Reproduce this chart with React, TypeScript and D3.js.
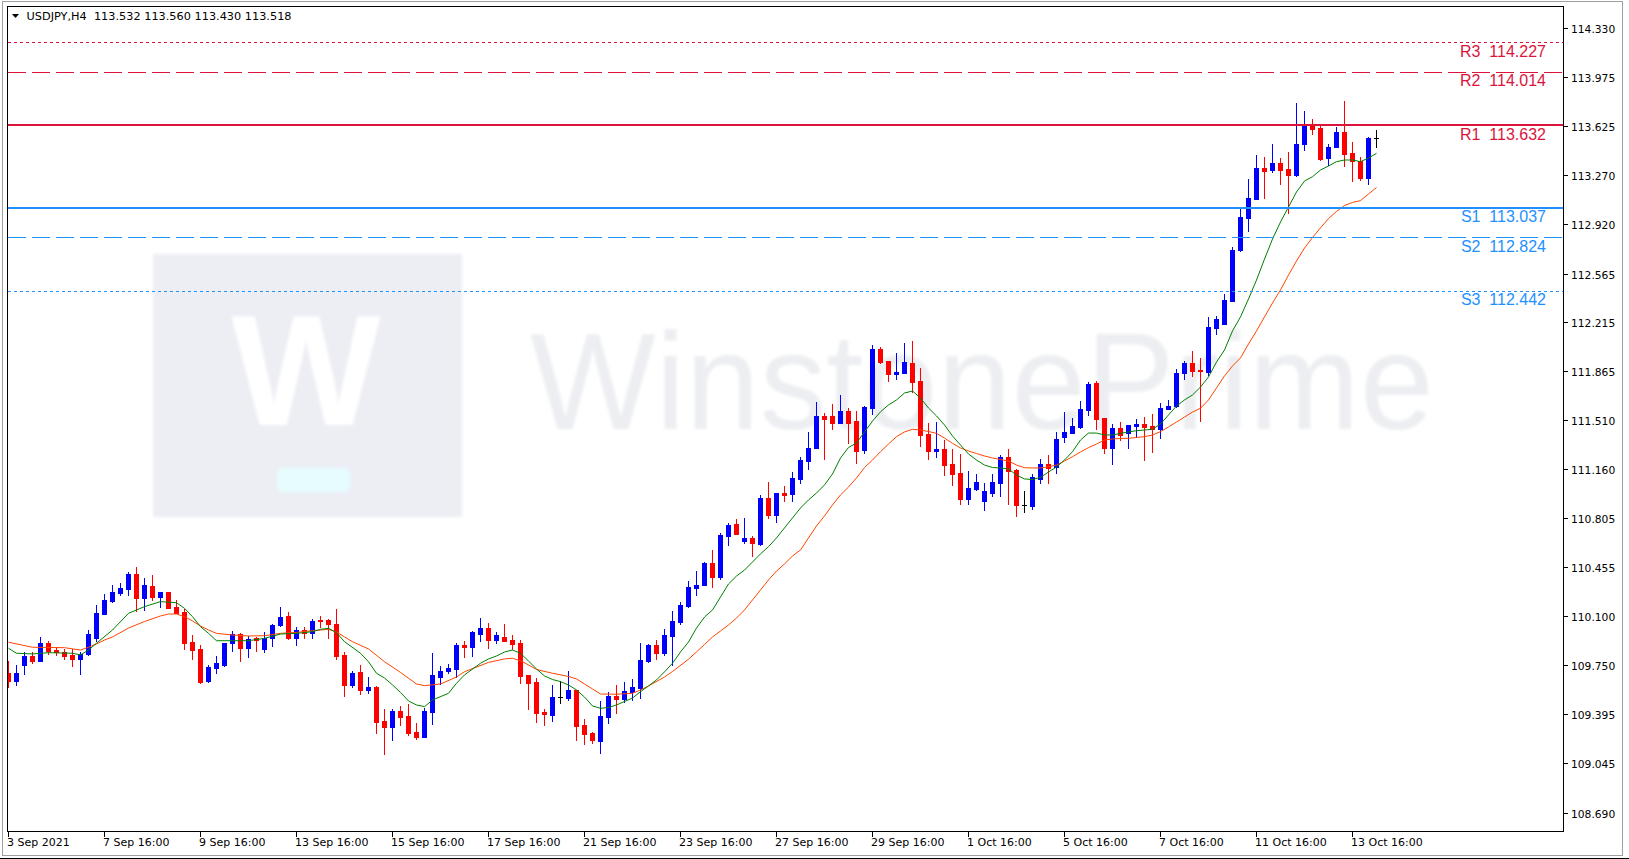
import React from 'react';
import * as d3 from 'd3';

const titleText = 'USDJPY,H4  113.532 113.560 113.430 113.518';

const opens = [109.691,109.638,109.751,109.817,109.781,109.907,109.858,109.846,109.823,109.794,109.830,109.945,110.117,110.211,110.268,110.299,110.405,110.234,110.319,110.241,110.275,110.167,110.132,109.918,109.866,109.633,109.729,109.754,109.911,109.973,109.875,109.942,109.866,109.942,110.038,110.103,109.941,110.001,109.984,110.074,110.074,110.045,109.820,109.607,109.699,109.573,109.595,109.347,109.306,109.420,109.382,109.268,109.235,109.415,109.667,109.710,109.724,109.894,109.882,109.975,110.016,109.932,109.952,109.930,109.905,109.679,109.628,109.413,109.393,109.520,109.513,109.571,109.319,109.264,109.206,109.379,109.530,109.508,109.556,109.587,109.781,109.894,109.839,109.961,110.060,110.177,110.306,110.322,110.484,110.386,110.680,110.764,110.644,110.664,110.623,110.951,110.829,110.987,110.980,111.088,111.219,111.311,111.541,111.538,111.488,111.574,111.502,111.296,111.598,112.022,111.936,111.845,111.852,111.922,111.792,111.411,111.289,111.303,111.196,111.131,110.944,111.016,110.930,110.987,111.059,111.248,111.152,110.901,110.894,111.088,111.196,111.176,111.392,111.421,111.462,111.586,111.778,111.528,111.313,111.457,111.416,111.469,111.483,111.469,111.445,111.591,111.612,111.852,111.920,111.871,111.857,112.176,112.205,112.370,112.734,112.966,113.103,113.324,113.309,113.360,113.316,113.273,113.496,113.638,113.611,113.395,113.475,113.582,113.431,113.374,113.254,113.539];

const highs = [109.779,109.751,109.842,109.846,109.952,109.923,109.878,109.868,109.863,109.846,110.002,110.182,110.261,110.326,110.342,110.419,110.455,110.376,110.398,110.275,110.275,110.218,110.151,109.966,109.894,109.751,109.815,109.909,109.997,109.981,109.961,109.954,109.986,110.043,110.168,110.131,110.026,110.026,110.081,110.102,110.081,110.153,109.842,109.710,109.751,109.667,109.602,109.432,109.434,109.456,109.470,109.335,109.444,109.837,109.744,109.758,109.909,109.923,109.997,110.088,110.052,109.988,110.047,109.966,109.930,109.679,109.657,109.432,109.607,109.635,109.707,109.571,109.362,109.272,109.492,109.556,109.607,109.628,109.652,109.909,109.901,109.930,110.009,110.141,110.204,110.354,110.426,110.491,110.578,110.702,110.769,110.800,110.807,110.678,110.973,111.066,110.987,111.037,111.138,111.248,111.426,111.643,111.564,111.627,111.692,111.600,111.574,111.613,112.051,112.037,111.936,111.994,112.066,112.080,111.884,111.490,111.498,111.368,111.303,111.268,111.145,111.124,111.057,111.124,111.260,111.303,111.160,111.001,111.124,111.232,111.261,111.426,111.572,111.526,111.649,111.783,111.792,111.528,111.483,111.500,111.476,111.517,111.536,111.555,111.636,111.658,111.878,111.938,112.008,111.958,112.254,112.257,112.420,112.756,113.038,113.247,113.417,113.403,113.496,113.396,113.439,113.791,113.734,113.676,113.625,113.496,113.618,113.805,113.510,113.403,113.546,113.597];

const lows = [109.595,109.607,109.686,109.767,109.781,109.827,109.823,109.794,109.744,109.686,109.823,109.926,110.117,110.203,110.254,110.254,110.141,110.146,110.218,110.170,110.158,110.122,109.868,109.794,109.621,109.628,109.696,109.744,109.851,109.781,109.808,109.853,109.846,109.887,110.033,109.934,109.894,109.945,109.945,110.023,109.941,109.792,109.530,109.595,109.542,109.552,109.263,109.113,109.214,109.320,109.249,109.216,109.231,109.326,109.614,109.691,109.667,109.810,109.817,109.925,109.875,109.911,109.925,109.868,109.623,109.434,109.342,109.320,109.350,109.479,109.499,109.211,109.185,109.188,109.120,109.336,109.408,109.482,109.499,109.515,109.774,109.794,109.823,109.751,110.045,110.168,110.256,110.322,110.314,110.372,110.613,110.695,110.630,110.536,110.613,110.809,110.781,110.932,110.932,111.059,111.162,111.311,111.234,111.447,111.488,111.346,111.205,111.277,111.555,111.922,111.792,111.807,111.852,111.715,111.325,111.232,111.248,111.117,111.045,110.908,110.908,111.009,110.865,110.966,110.968,110.910,110.824,110.853,110.874,111.061,111.061,111.133,111.356,111.417,111.453,111.548,111.450,111.277,111.196,111.368,111.313,111.390,111.224,111.282,111.382,111.589,111.607,111.809,111.830,111.507,111.833,112.133,112.205,112.370,112.727,112.873,113.103,113.110,113.295,113.209,113.002,113.268,113.453,113.568,113.381,113.345,113.475,113.338,113.230,113.237,113.209,113.477];

const closes = [109.638,109.691,109.815,109.781,109.907,109.851,109.842,109.817,109.794,109.827,109.973,110.124,110.218,110.275,110.304,110.405,110.234,110.326,110.241,110.275,110.162,110.127,109.911,109.858,109.626,109.737,109.763,109.909,109.971,109.875,109.937,109.932,109.942,110.038,110.096,109.941,110.001,109.981,110.066,110.064,110.047,109.815,109.607,109.696,109.573,109.592,109.342,109.306,109.420,109.380,109.263,109.235,109.420,109.679,109.708,109.731,109.894,109.882,109.988,110.016,109.932,109.966,109.925,109.903,109.674,109.623,109.408,109.401,109.520,109.520,109.571,109.314,109.257,109.214,109.384,109.528,109.508,109.564,109.592,109.786,109.894,109.839,109.966,110.067,110.182,110.311,110.326,110.486,110.386,110.687,110.757,110.695,110.664,110.630,110.951,110.829,110.987,110.975,111.095,111.224,111.311,111.541,111.521,111.488,111.574,111.490,111.289,111.608,112.022,111.929,111.845,111.857,111.929,111.787,111.404,111.289,111.303,111.189,111.124,110.944,111.023,111.066,111.002,111.066,111.248,111.145,110.901,110.901,111.102,111.196,111.167,111.375,111.424,111.469,111.591,111.771,111.521,111.313,111.457,111.404,111.476,111.483,111.462,111.445,111.600,111.612,111.850,111.920,111.866,111.862,112.180,112.238,112.375,112.734,112.973,113.108,113.324,113.304,113.360,113.309,113.273,113.496,113.638,113.604,113.388,113.475,113.582,113.424,113.374,113.254,113.539,113.539];

// moving averages: [bar index, value]
const maFast: [number, number][] = [[0,109.871],[1,109.835],[3,109.830],[5,109.839],[8,109.835],[9,109.823],[10,109.858],[11,109.907],[13,110.002],[15,110.122],[17,110.170],[19,110.206],[21,110.198],[22,110.158],[23,110.098],[24,110.026],[25,109.978],[26,109.925],[28,109.925],[30,109.925],[32,109.942],[34,109.973],[36,109.978],[38,109.990],[39,110.007],[40,110.014],[41,109.983],[42,109.918],[44,109.835],[45,109.774],[46,109.691],[47,109.657],[48,109.607],[49,109.553],[50,109.492],[51,109.463],[52,109.451],[53,109.499],[55,109.547],[56,109.619],[57,109.679],[59,109.763],[60,109.794],[61,109.815],[62,109.844],[63,109.858],[64,109.835],[65,109.779],[66,109.722],[67,109.672],[68,109.646],[69,109.631],[70,109.607],[71,109.571],[72,109.520],[73,109.456],[74,109.439],[75,109.445],[76,109.463],[78,109.513],[79,109.559],[80,109.600],[81,109.643],[82,109.701],[83,109.763],[84,109.844],[85,109.916],[86,110.016],[87,110.095],[88,110.146],[89,110.239],[90,110.333],[91,110.390],[92,110.433],[93,110.491],[94,110.549],[95,110.601],[96,110.664],[97,110.736],[98,110.808],[99,110.879],[100,110.937],[101,110.987],[102,111.045],[103,111.124],[104,111.239],[105,111.314],[106,111.346],[107,111.426],[108,111.504],[109,111.571],[110,111.620],[111,111.656],[112,111.706],[113,111.720],[114,111.670],[115,111.598],[116,111.541],[117,111.476],[118,111.397],[119,111.332],[120,111.267],[121,111.224],[122,111.188],[123,111.170],[124,111.167],[125,111.160],[126,111.116],[127,111.088],[128,111.084],[129,111.099],[130,111.138],[131,111.174],[132,111.224],[133,111.284],[134,111.368],[135,111.418],[136,111.418],[137,111.404],[138,111.404],[139,111.416],[140,111.426],[141,111.435],[142,111.440],[143,111.445],[144,111.483],[145,111.548],[146,111.612],[147,111.656],[148,111.692],[149,111.749],[150,111.821],[151,111.929],[152,112.015],[153,112.152],[154,112.253],[155,112.382],[156,112.518],[157,112.669],[158,112.813],[159,112.935],[160,113.043],[161,113.151],[162,113.230],[163,113.261],[164,113.309],[165,113.338],[166,113.369],[167,113.381],[168,113.381],[169,113.369],[170,113.395],[171,113.429]];

const maSlow: [number, number][] = [[0,109.914],[3,109.878],[7,109.875],[9,109.858],[10,109.878],[11,109.902],[12,109.930],[13,109.952],[15,110.016],[17,110.063],[19,110.103],[20,110.117],[21,110.117],[22,110.098],[23,110.067],[24,110.031],[25,110.002],[26,109.978],[28,109.966],[30,109.959],[32,109.961],[34,109.978],[36,109.985],[38,109.997],[40,110.007],[41,109.988],[42,109.952],[43,109.918],[45,109.866],[47,109.774],[49,109.697],[51,109.614],[52,109.602],[54,109.614],[56,109.664],[57,109.702],[60,109.769],[62,109.794],[63,109.799],[64,109.781],[65,109.751],[66,109.718],[68,109.691],[70,109.668],[71,109.650],[72,109.614],[73,109.578],[74,109.542],[76,109.540],[78,109.547],[79,109.571],[80,109.600],[82,109.664],[83,109.704],[85,109.792],[86,109.844],[87,109.898],[88,109.952],[89,109.995],[90,110.038],[91,110.088],[92,110.146],[93,110.218],[94,110.290],[95,110.362],[96,110.426],[97,110.477],[98,110.534],[99,110.577],[100,110.664],[101,110.750],[102,110.822],[103,110.901],[104,110.973],[105,111.030],[106,111.095],[107,111.170],[108,111.224],[109,111.284],[110,111.339],[111,111.392],[112,111.426],[113,111.445],[114,111.440],[115,111.429],[116,111.416],[117,111.382],[118,111.344],[119,111.311],[120,111.289],[121,111.271],[122,111.253],[123,111.239],[124,111.228],[125,111.217],[126,111.188],[127,111.169],[128,111.167],[129,111.167],[130,111.176],[131,111.188],[132,111.217],[133,111.248],[134,111.282],[135,111.313],[136,111.339],[137,111.368],[138,111.375],[139,111.379],[140,111.380],[141,111.386],[142,111.392],[143,111.404],[144,111.428],[145,111.462],[146,111.497],[147,111.533],[148,111.569],[149,111.596],[150,111.656],[151,111.742],[152,111.829],[153,111.900],[154,111.958],[155,112.058],[156,112.152],[157,112.253],[158,112.353],[159,112.447],[160,112.554],[161,112.655],[162,112.748],[163,112.824],[164,112.893],[165,112.960],[166,113.011],[167,113.054],[168,113.076],[169,113.089],[170,113.137],[171,113.183]];

const priceTicks = [114.330,113.975,113.625,113.270,112.920,112.565,112.215,111.865,111.510,111.160,110.805,110.455,110.100,109.750,109.395,109.045,108.690];

const timeTickIndex = [0,12,24,36,48,60,72,84,96,108,120,132,144,156,168];
const timeTickLabels = ['3 Sep 2021','7 Sep 16:00','9 Sep 16:00','13 Sep 16:00','15 Sep 16:00','17 Sep 16:00','21 Sep 16:00','23 Sep 16:00','27 Sep 16:00','29 Sep 16:00','1 Oct 16:00','5 Oct 16:00','7 Oct 16:00','11 Oct 16:00','13 Oct 16:00'];

const pivotNames = ['R3','R2','R1','S1','S2','S3'];
const pivotValues = [114.227,114.014,113.632,113.037,112.824,112.442];

export default function App() {
  const W = 1629, H = 859;
  const L = 7, T = 6, R = 1563, B = 831;
  const n = opens.length;
  const x = d3.scaleLinear().domain([0, n - 1]).range([8.6, 8.6 + 8 * (n - 1)]);
  const y = d3.scaleLinear().domain([108.69, 114.33]).range([812.5, 28]);
  const line = d3.line<[number, number]>().x(d => Math.floor(x(d[0])) + 0.5).y(d => y(d[1]));

  const pivotStyle = (name: string) => {
    const isR = name[0] === 'R';
    const color = isR ? '#DC143C' : '#1E90FF';
    const lvl = name[1];
    return {
      color,
      width: lvl === '1' ? 2 : 1,
      dash: lvl === '1' ? undefined : lvl === '2' ? '18,6' : '3,3',
    };
  };

  const axisFont = "'DejaVu Sans', Verdana, sans-serif";

  return (
    <div style={{ position: 'absolute', left: 0, top: 0, width: W, height: H, background: '#fff' }}>
      <svg width={W} height={H} viewBox={`0 0 ${W} ${H}`} style={{ display: 'block' }}>
        <defs>
          <clipPath id="plot">
            <rect x={L + 1} y={T + 1} width={R - L - 1} height={B - T - 1} />
          </clipPath>
          <filter id="soft" x="-5%" y="-5%" width="110%" height="110%">
            <feGaussianBlur stdDeviation="1.8" />
          </filter>
        </defs>
        <rect x={0} y={0} width={W} height={H} fill="#fff" />
        {/* outer frame */}
        <rect x={2.5} y={1.5} width={1620} height={854} fill="none" stroke="#a0a0a0" strokeWidth={1} />
        <line x1={0} x2={W} y1={858.5} y2={858.5} stroke="#000" strokeWidth={1} />

        <g clipPath="url(#plot)">
          {/* watermark */}
          <g filter="url(#soft)">
            <rect x={153} y={254} width={309} height={263} fill="#eceef4" />
            <text x={306} y={425} textAnchor="middle" fontFamily="'Liberation Sans', Arial, sans-serif" fontWeight="bold" fontSize={158} fill="#ffffff">W</text>
            <rect x={277} y={468} width={73} height={24} rx={6} fill="#e6fcfe" />
            <text x={530} y={429} fontFamily="'Liberation Sans', Arial, sans-serif" fontSize={138} fill="#eceef1" textLength={904} lengthAdjust="spacingAndGlyphs">WinstonePrime</text>
          </g>

          {/* candles */}
          <g shapeRendering="crispEdges">
            {opens.map((o, i) => {
              const h = highs[i], l = lows[i], c = closes[i];
              const px = Math.floor(x(i));
              const yh = Math.round(y(h)), yl = Math.round(y(l));
              const yo = Math.round(y(o)), yc = Math.round(y(c));
              const col = c > o ? '#0000FF' : c < o ? '#FF0000' : '#000000';
              const top = Math.min(yo, yc), bot = Math.max(yo, yc);
              return (
                <g key={i}>
                  <rect x={px} y={yh} width={1} height={yl - yh + 1} fill={col} />
                  <rect x={px - 2} y={top} width={5} height={bot - top + 1} fill={col} />
                </g>
              );
            })}
          </g>

          {/* moving averages */}
          <path d={line(maSlow) || ''} fill="none" stroke="#FF4500" strokeWidth={1} />
          <path d={line(maFast) || ''} fill="none" stroke="#008000" strokeWidth={1} />

          {/* pivot lines */}
          {pivotNames.map((name, k) => {
            const s = pivotStyle(name);
            const yy = s.width === 2 ? Math.round(y(pivotValues[k])) : Math.round(y(pivotValues[k])) + 0.5;
            return (
              <line key={name} x1={L + 1} x2={R} y1={yy} y2={yy} stroke={s.color} strokeWidth={s.width}
                strokeDasharray={s.dash} shapeRendering="crispEdges" />
            );
          })}
        </g>

        {/* pivot labels */}
        {pivotNames.map((name, k) => {
          const s = pivotStyle(name);
          const yy = y(pivotValues[k]);
          return (
            <text key={name} x={1546} y={yy + 14.5} textAnchor="end" fill={s.color}
              fontFamily="'Liberation Sans', Arial, sans-serif" fontSize={16} style={{ whiteSpace: 'pre' }}>
              {`${name}  ${pivotValues[k].toFixed(3)}`}
            </text>
          );
        })}

        {/* chart border */}
        <g shapeRendering="crispEdges" stroke="#000" strokeWidth={1}>
          <line x1={L + 0.5} x2={L + 0.5} y1={T} y2={B + 1} />
          <line x1={L} x2={R + 1} y1={T + 0.5} y2={T + 0.5} />
          <line x1={R + 0.5} x2={R + 0.5} y1={T} y2={B + 1} />
          <line x1={L} x2={R + 1} y1={B + 0.5} y2={B + 0.5} />
        </g>

        {/* price axis */}
        {priceTicks.map(p => {
          const yy = Math.round(y(p)) + 0.5;
          return (
            <g key={p}>
              <line x1={R + 1} x2={R + 5} y1={yy} y2={yy} stroke="#000" strokeWidth={1} shapeRendering="crispEdges" />
              <text x={1571} y={yy + 4} fontFamily={axisFont} fontSize={10.7} fill="#000">{p.toFixed(3)}</text>
            </g>
          );
        })}

        {/* time axis */}
        {timeTickIndex.map((idx, k) => {
          const xx = Math.floor(x(idx)) + 0.5;
          return (
            <g key={idx}>
              <line x1={xx} x2={xx} y1={B + 1} y2={B + 6} stroke="#000" strokeWidth={1} shapeRendering="crispEdges" />
              <text x={xx - 1.5} y={846} fontFamily={axisFont} fontSize={11} fill="#000">{timeTickLabels[k]}</text>
            </g>
          );
        })}

        {/* title */}
        <polygon points="12,14 19,14 15.5,18" fill="#000" />
        <text x={26.5} y={20} fontFamily={axisFont} fontSize={11.3} fill="#000" style={{ whiteSpace: 'pre' }}>{titleText}</text>
      </svg>
    </div>
  );
}
